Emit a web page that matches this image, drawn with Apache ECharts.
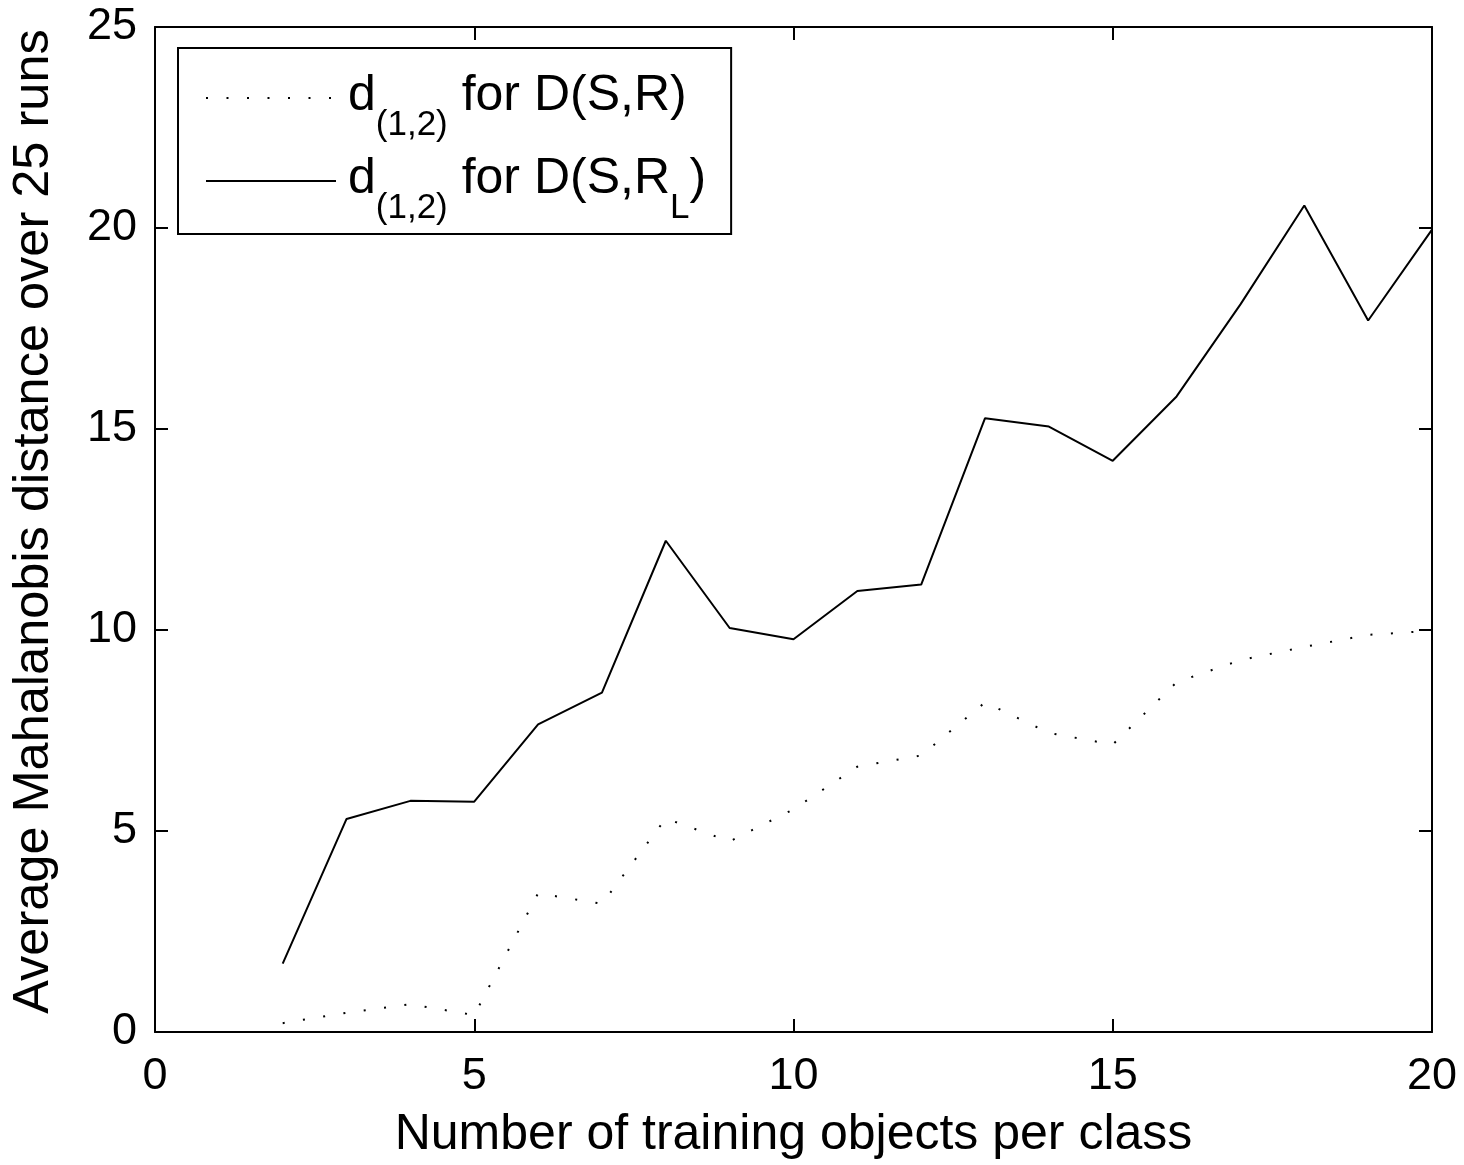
<!DOCTYPE html>
<html>
<head>
<meta charset="utf-8">
<script src="https://cdn.jsdelivr.net/npm/echarts@6/dist/echarts.min.js"></script>
<style>
  html, body { margin: 0; padding: 0; background: #fff; }
  #chart { width: 1464px; height: 1165px; }
</style>
</head>
<body>
<div id="chart"></div>
<script>
// Number of training objects per class
const objectsPerClass = [2, 3, 4, 5, 6, 7, 8, 9, 10, 11, 12, 13, 14, 15, 16, 17, 18, 19, 20];
// Average Mahalanobis distance d(1,2) over 25 runs, representation D(S,R)
const distSR = [0.22, 0.48, 0.69, 0.42, 3.45, 3.19, 5.31, 4.74, 5.54, 6.60, 6.88, 8.20, 7.44, 7.15, 8.70, 9.25, 9.58, 9.88, 9.98];
// Average Mahalanobis distance d(1,2) over 25 runs, representation D(S,R_L)
const distSRL = [1.70, 5.30, 5.75, 5.73, 7.65, 8.44, 12.22, 10.05, 9.77, 10.97, 11.13, 15.27, 15.06, 14.21, 15.81, 18.10, 20.56, 17.70, 19.96];

const xTicks = [0, 5, 10, 15, 20];
const yTicks = [0, 5, 10, 15, 20, 25];

const FONT = 'Liberation Sans, Arial, Helvetica, sans-serif';

const pairs = (ys) => objectsPerClass.map((x, i) => [x, ys[i]]);

// legend entries with subscripts
const legendLabels = {
  SR: '{d|d}{s|(1,2)}{m| for D(S,R)}',
  SRL: '{d|d}{s|(1,2)}{m| for D(S,R}{s|L}{m|)}'
};

const frameAxis = {
  type: 'value',
  axisLine: { show: true, onZero: false, lineStyle: { color: '#000', width: 2 } },
  axisTick: { show: true, inside: true, length: 13, lineStyle: { color: '#000', width: 2 } },
  splitLine: { show: false }
};

const chart = echarts.init(document.getElementById('chart'), null, { renderer: 'canvas' });

chart.setOption({
  animation: false,
  backgroundColor: '#fff',
  grid: { left: 155, right: 32, top: 27, bottom: 131, containLabel: false },
  xAxis: [
    Object.assign({}, frameAxis, {
      position: 'bottom',
      min: xTicks[0], max: xTicks[xTicks.length - 1], interval: 5,
      name: 'Number of training objects per class',
      nameLocation: 'middle', nameGap: 78,
      nameTextStyle: { fontFamily: FONT, fontSize: 50, color: '#000' },
      axisLabel: { fontFamily: FONT, fontSize: 45, color: '#000', margin: 22 }
    }),
    Object.assign({}, frameAxis, {
      position: 'top',
      min: xTicks[0], max: xTicks[xTicks.length - 1], interval: 5,
      axisLabel: { show: false }
    })
  ],
  yAxis: [
    Object.assign({}, frameAxis, {
      position: 'left',
      min: yTicks[0], max: yTicks[yTicks.length - 1], interval: 5,
      name: 'Average Mahalanobis distance over 25 runs',
      nameLocation: 'middle', nameGap: 95, nameRotate: 90,
      nameTextStyle: { fontFamily: FONT, fontSize: 50.5, color: '#000', padding: [0, 0, 0, 16] },
      axisLabel: { fontFamily: FONT, fontSize: 45, color: '#000', margin: 18 }
    }),
    Object.assign({}, frameAxis, {
      position: 'right',
      min: yTicks[0], max: yTicks[yTicks.length - 1], interval: 5,
      axisLabel: { show: false }
    })
  ],
  legend: {
    orient: 'vertical',
    left: 178,
    top: 48,
    padding: [17, 25, 8, 27],
    itemGap: 5,
    itemWidth: 130,
    itemHeight: 14,
    borderColor: '#000',
    borderWidth: 2,
    backgroundColor: '#fff',
    selectedMode: false,
    data: ['SR', 'SRL'],
    formatter: (name) => legendLabels[name],
    itemStyle: { color: 'rgba(0,0,0,0)', borderColor: 'rgba(0,0,0,0)', borderWidth: 0 },
    textStyle: {
      fontFamily: FONT,
      fontSize: 50,
      color: '#000',
      rich: {
        d: { fontFamily: FONT, fontSize: 50, color: '#000', lineHeight: 66, verticalAlign: 'top', padding: [6, 0, 0, 7] },
        m: { fontFamily: FONT, fontSize: 50, color: '#000', lineHeight: 66, verticalAlign: 'top', padding: [6, 0, 0, 0] },
        s: { fontFamily: FONT, fontSize: 35, color: '#000', lineHeight: 35, verticalAlign: 'top', padding: [43, 0, 0, 0] }
      }
    }
  },
  series: [
    {
      name: 'SR',
      type: 'line',
      xAxisIndex: 0,
      yAxisIndex: 0,
      data: pairs(distSR),
      symbol: 'none',
      lineStyle: { color: '#000', width: 2, type: [2, 18.5], cap: 'butt' },
      itemStyle: { color: '#000' }
    },
    {
      name: 'SRL',
      type: 'line',
      xAxisIndex: 0,
      yAxisIndex: 0,
      data: pairs(distSRL),
      symbol: 'none',
      lineStyle: { color: '#000', width: 2, type: 'solid' },
      itemStyle: { color: '#000' }
    }
  ]
});
</script>
</body>
</html>
